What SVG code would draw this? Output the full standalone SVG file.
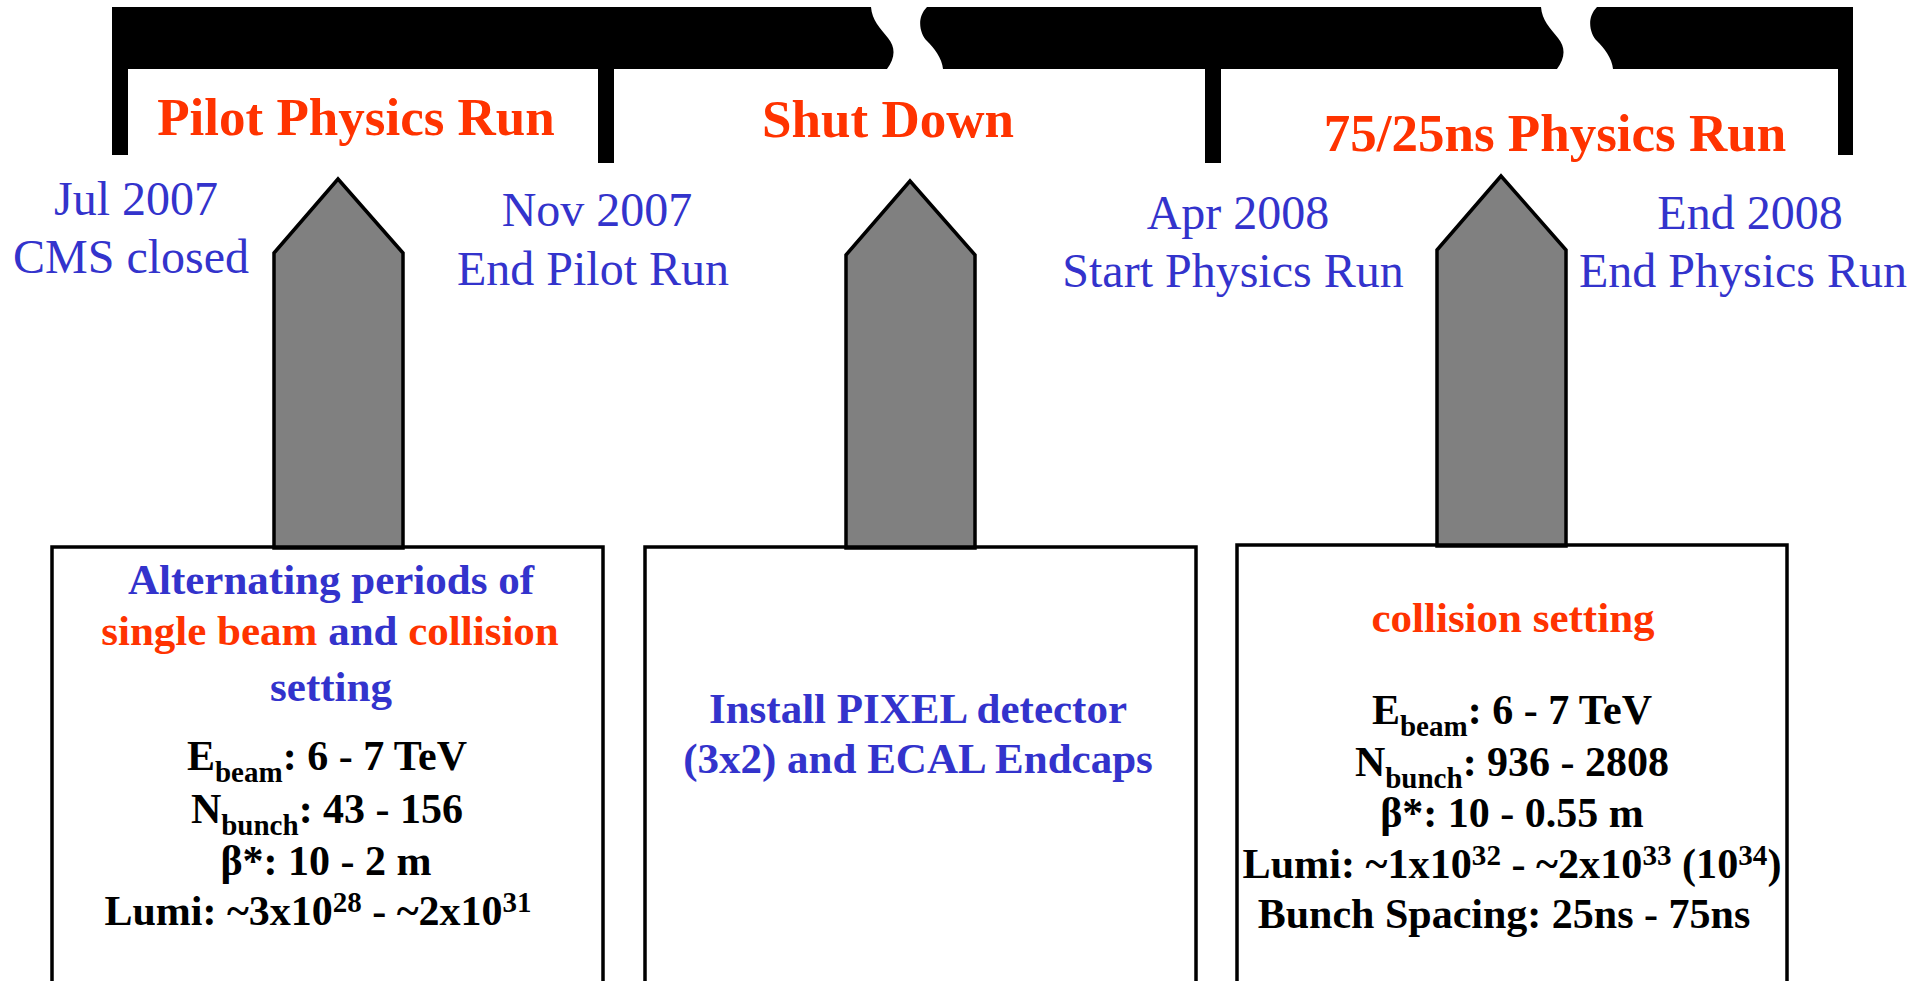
<svg xmlns="http://www.w3.org/2000/svg" width="1927" height="981" viewBox="0 0 1927 981">
<style>
.ttl{font-family:"Liberation Serif","Times New Roman",serif;font-weight:bold;font-size:53px;fill:#ff3300;text-anchor:middle}
.date{font-family:"Liberation Serif","Times New Roman",serif;font-size:48px;fill:#3333cc;text-anchor:middle}
.bt{font-family:"Liberation Serif","Times New Roman",serif;font-weight:bold;font-size:43px;fill:#3333cc;text-anchor:middle}
.bk{font-family:"Liberation Serif","Times New Roman",serif;font-weight:bold;font-size:42px;fill:#000;text-anchor:middle}
.or{fill:#ff3300}
.sm{font-size:29px}
.arrow{fill:#808080;stroke:#000;stroke-width:3.5;stroke-linejoin:miter}
.box{fill:none;stroke:#000;stroke-width:3.5}
</style>
<rect width="1927" height="981" fill="#fff"/>
<g id="timeline">
<path d="M112,7 L871,7 C872,20 880,28 888,38 C896,48 895,58 887,69 L112,69 Z" fill="#000"/>
<path d="M927,7 L1541,7 C1542,20 1550,28 1558,38 C1566,48 1565,58 1557,69 L943,69 C942,58 934,48 927,41 C920,34 916,18 927,7 Z" fill="#000"/>
<path d="M1597,7 L1853,7 L1853,69 L1613,69 C1612,58 1604,48 1597,41 C1590,34 1586,18 1597,7 Z" fill="#000"/>
<rect x="112" y="68" width="16" height="87" fill="#000"/>
<rect x="598" y="68" width="16" height="95" fill="#000"/>
<rect x="1205" y="68" width="16" height="95" fill="#000"/>
<rect x="1838" y="68" width="15" height="87" fill="#000"/>
</g>
<g id="phase-labels">
<text class="ttl" x="356" y="135">Pilot Physics Run</text>
<text class="ttl" x="888" y="137">Shut Down</text>
<text class="ttl" x="1555" y="151">75/25ns Physics Run</text>
</g>
<g id="dates">
<text class="date" x="136" y="215">Jul 2007</text>
<text class="date" x="131" y="273">CMS closed</text>
<text class="date" x="597" y="226">Nov 2007</text>
<text class="date" x="593" y="285">End Pilot Run</text>
<text class="date" x="1238" y="229">Apr 2008</text>
<text class="date" x="1233" y="287">Start Physics Run</text>
<text class="date" x="1750" y="229">End 2008</text>
<text class="date" x="1743" y="287">End Physics Run</text>
</g>
<g id="connectors">
<polygon class="arrow" points="274,253 338,179 403,253 403,548 274,548"/>
<polygon class="arrow" points="846,255 910,181 975,255 975,548 846,548"/>
<polygon class="arrow" points="1437,250 1501,176 1566,250 1566,546 1437,546"/>
</g>
<g id="box-pilot">
<rect class="box" x="52" y="547" width="551" height="440"/>
<text class="bt" x="331" y="594">Alternating periods of</text>
<text class="bt" x="330" y="645"><tspan class="or">single beam</tspan> and <tspan class="or">collision</tspan></text>
<text class="bt" x="331" y="701">setting</text>
<text class="bk" x="327" y="770">E<tspan class="sm" dy="12">beam</tspan><tspan dy="-12">: 6 - 7 TeV</tspan></text>
<text class="bk" x="327" y="823">N<tspan class="sm" dy="12">bunch</tspan><tspan dy="-12">: 43 - 156</tspan></text>
<text class="bk" x="326" y="875">β*: 10 - 2 m</text>
<text class="bk" x="318" y="925">Lumi: ~3x10<tspan class="sm" dy="-13">28</tspan><tspan dy="13"> - ~2x10</tspan><tspan class="sm" dy="-13">31</tspan></text>
</g>
<g id="box-shutdown">
<rect class="box" x="645" y="547" width="551" height="440"/>
<text class="bt" x="918" y="723">Install PIXEL detector</text>
<text class="bt" x="918" y="773">(3x2) and ECAL Endcaps</text>
</g>
<g id="box-physics">
<rect class="box" x="1237" y="545" width="550" height="442"/>
<text class="bt or" x="1513" y="632">collision setting</text>
<text class="bk" x="1512" y="724">E<tspan class="sm" dy="12">beam</tspan><tspan dy="-12">: 6 - 7 TeV</tspan></text>
<text class="bk" x="1512" y="776">N<tspan class="sm" dy="12">bunch</tspan><tspan dy="-12">: 936 - 2808</tspan></text>
<text class="bk" x="1512" y="827">β*: 10 - 0.55 m</text>
<text class="bk" x="1512" y="878" textLength="539" lengthAdjust="spacingAndGlyphs">Lumi: ~1x10<tspan class="sm" dy="-13">32</tspan><tspan dy="13"> - ~2x10</tspan><tspan class="sm" dy="-13">33</tspan><tspan dy="13"> (10</tspan><tspan class="sm" dy="-13">34</tspan><tspan dy="13">)</tspan></text>
<text class="bk" x="1504" y="928">Bunch Spacing: 25ns - 75ns</text>
</g>
</svg>
